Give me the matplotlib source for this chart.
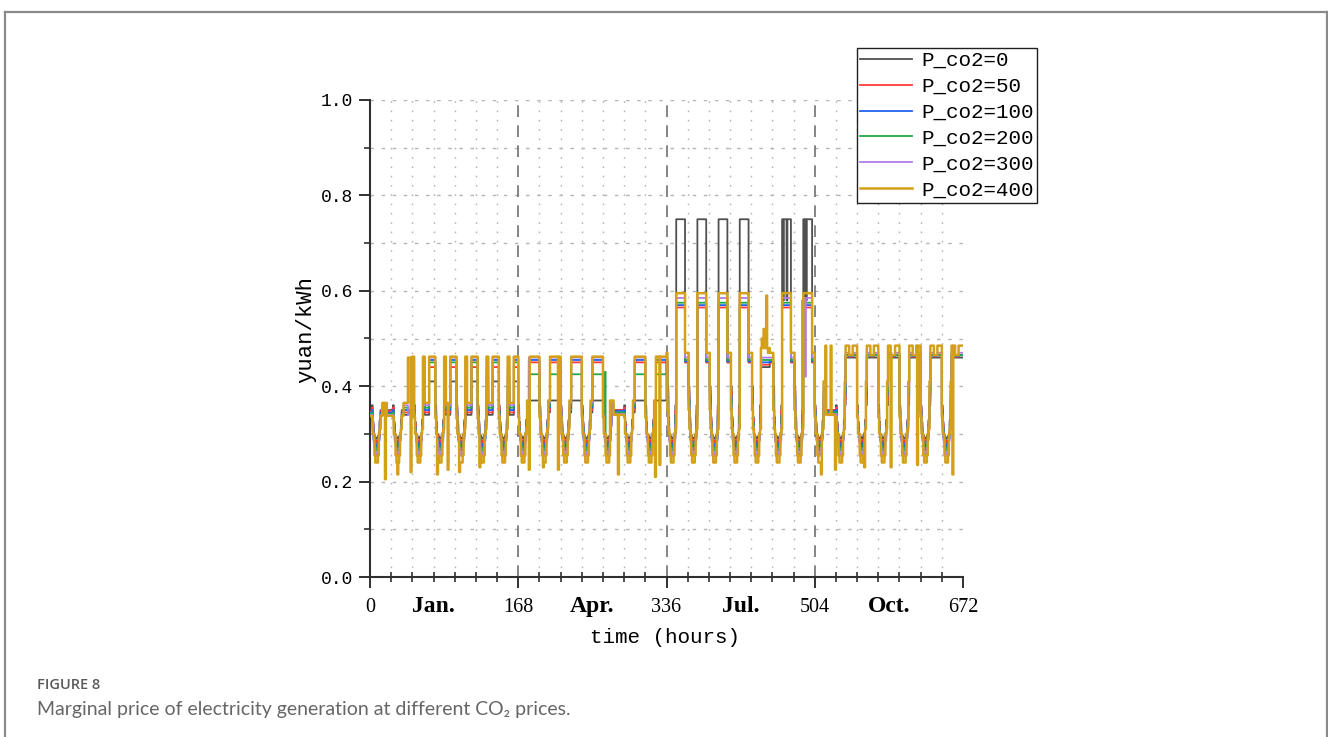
import numpy as np
import matplotlib
matplotlib.use("Agg")
import matplotlib.pyplot as plt
from matplotlib.ticker import MultipleLocator, FixedLocator
from matplotlib.lines import Line2D

# ---------------- data ----------------
series_labels = ["P_co2=0", "P_co2=50", "P_co2=100", "P_co2=200", "P_co2=300", "P_co2=400"]
series_colors = ["#505050", "#ff3b3b", "#1f63f0", "#22aa4a", "#b57be8", "#d4a01a"]

x_tick_values = [0, 168, 336, 504, 672]
month_labels = ["Jan.", "Apr.", "Jul.", "Oct."]
y_tick_values = [0.0, 0.2, 0.4, 0.6, 0.8, 1.0]

# day types for the 7 typical days of each season
jan_days = "LLHHHHH"
apr_days = "HHHHLHH"
jul_days = "HHHHMHH"
oct_days = "LHHHHHH"

# hourly templates (24 codes per day)
jan_templates = {"H": "PPEFabcdefgRKKMMMMMPPPPP", "L": "LLEFabcdefgRLLMMMMMLLLLL"}
apr_templates = {"H": "EFabcdefgRMMPPPPPPPPPPPP", "L": "EFabcdefgRMMLLLLLLLLLLLL"}
jul_templates = {"H": "SEFabcdefgRPPPPPPPPPPSSS", "M": "SEFabcdefgRMMMMMMMMMMSSS"}
oct_templates = {"H": "EFabcdefgRMPPPPQQQQPPPPP", "L": "EFabcdefgRMMLLLLLLLLLLLL"}

# night valley levels [P0, P50, P100, P200, P300, P400]
night_levels = {
    "a": [0.300, 0.296, 0.292, 0.288, 0.284, 0.300],
    "b": [0.296, 0.290, 0.284, 0.278, 0.270, 0.255],
    "c": [0.292, 0.285, 0.278, 0.270, 0.260, 0.240],
    "d": [0.290, 0.282, 0.274, 0.265, 0.254, 0.240],
    "e": [0.292, 0.285, 0.278, 0.270, 0.260, 0.240],
    "f": [0.296, 0.290, 0.284, 0.278, 0.270, 0.255],
    "g": [0.302, 0.298, 0.294, 0.290, 0.286, 0.300],
}
jan_levels = {
    "P": [0.410, 0.440, 0.455, 0.450, 0.460, 0.462],
    "K": [0.360, 0.380, 0.400, 0.420, 0.440, 0.462],
    "M": [0.340, 0.345, 0.350, 0.355, 0.360, 0.365],
    "L": [0.350, 0.348, 0.345, 0.342, 0.340, 0.338],
    "R": [0.330, 0.328, 0.325, 0.320, 0.315, 0.310],
    "E": [0.360, 0.355, 0.350, 0.345, 0.340, 0.335],
    "F": [0.325, 0.320, 0.315, 0.310, 0.305, 0.300],
}
apr_levels = {
    "P": [0.370, 0.450, 0.455, 0.425, 0.460, 0.462],
    "M": [0.345, 0.350, 0.355, 0.360, 0.365, 0.370],
    "L": [0.350, 0.350, 0.348, 0.345, 0.342, 0.340],
    "R": [0.330, 0.328, 0.325, 0.320, 0.315, 0.310],
    "E": [0.360, 0.355, 0.350, 0.345, 0.340, 0.335],
    "F": [0.325, 0.320, 0.315, 0.310, 0.305, 0.300],
}
jul_levels = {
    "P": [0.750, 0.565, 0.570, 0.575, 0.585, 0.595],
    "S": [0.450, 0.450, 0.452, 0.455, 0.460, 0.470],
    "M": [0.440, 0.445, 0.450, 0.455, 0.460, 0.480],
    "R": [0.360, 0.350, 0.340, 0.330, 0.320, 0.310],
    "E": [0.400, 0.390, 0.380, 0.370, 0.360, 0.350],
    "F": [0.335, 0.330, 0.325, 0.320, 0.315, 0.310],
}
oct_levels = {
    "P": [0.460, 0.465, 0.465, 0.465, 0.470, 0.485],
    "Q": [0.460, 0.462, 0.463, 0.465, 0.465, 0.465],
    "M": [0.360, 0.370, 0.380, 0.390, 0.400, 0.410],
    "L": [0.350, 0.350, 0.348, 0.345, 0.342, 0.340],
    "R": [0.330, 0.328, 0.325, 0.320, 0.315, 0.310],
    "E": [0.360, 0.355, 0.350, 0.345, 0.340, 0.335],
    "F": [0.325, 0.320, 0.315, 0.310, 0.305, 0.300],
}

# isolated spikes: (hour, series index, value)
spikes = [
    (17, 5, 0.205), (31, 5, 0.215), (43, 5, 0.46), (44, 5, 0.46), (45, 5, 0.46),
    (46, 5, 0.22), (76, 5, 0.215), (88, 5, 0.225), (101, 5, 0.22), (124, 5, 0.23),
    (180, 5, 0.225), (196, 5, 0.23), (213, 5, 0.225), (266, 3, 0.43), (272, 5, 0.37),
    (273, 5, 0.37), (281, 5, 0.215), (300, 1, 0.455), (323, 5, 0.21), (328, 5, 0.235),
    (444, 5, 0.50), (446, 5, 0.52), (449, 5, 0.59), (451, 5, 0.47),
    (468, 0, 0.58), (472, 0, 0.58),
    (490, 0, 0.58), (492, 0, 0.58), (494, 0, 0.58), (493, 4, 0.42),
    (511, 5, 0.215), (516, 5, 0.485), (522, 5, 0.485), (527, 5, 0.225),
    (560, 5, 0.23), (590, 5, 0.23), (620, 5, 0.235), (660, 5, 0.215),
]

season_days = [jan_days, apr_days, jul_days, oct_days]
season_templates = [jan_templates, apr_templates, jul_templates, oct_templates]
season_levels = [jan_levels, apr_levels, jul_levels, oct_levels]


def build_series():
    n = len(series_labels)
    rows = [[] for _ in range(n)]
    for days, tpls, lv_season in zip(season_days, season_templates, season_levels):
        lv = dict(night_levels)
        lv.update(lv_season)
        for t in days:
            for code in tpls[t]:
                for k in range(n):
                    rows[k].append(lv[code][k])
    arr = np.array(rows)
    for h, k, v in spikes:
        arr[k, h] = v
    return arr


values = build_series()
hours = np.arange(values.shape[1] + 1)

# ---------------- figure ----------------
W, H = 1328, 737
fig = plt.figure(figsize=(W / 100, H / 100), dpi=100)

# outer frame
frame_kw = dict(color="#8a8a8a", lw=1.6, transform=fig.transFigure, clip_on=False)
fig.add_artist(Line2D([4.5 / W, 4.5 / W], [0, 1 - 12 / H], **frame_kw))
fig.add_artist(Line2D([4.5 / W, 1326.5 / W], [1 - 12 / H, 1 - 12 / H], **frame_kw))
fig.add_artist(Line2D([1326.5 / W, 1326.5 / W], [0, 1 - 12 / H], **frame_kw))

ax = fig.add_axes([370 / W, 1 - 577 / H, 593 / W, 477 / H])

# grid
for xv in range(24, 672, 24):
    if xv in (168, 336, 504):
        continue
    ax.axvline(xv, color="#b4b4b4", lw=1.0, ls=(0, (1.2, 5.5)), zorder=0)
for yv in np.arange(0.1, 1.01, 0.1):
    ax.axhline(yv, color="#b4b4b4", lw=1.0, ls=(0, (2.5, 5.5)), zorder=0)
for xv in (168, 336, 504):
    ax.axvline(xv, color="#707070", lw=1.2, ls=(0, (7, 5)), zorder=0.5)

widths = [1.3, 1.3, 1.3, 1.3, 1.3, 1.8]
handles = []
for k in range(values.shape[0]):
    y = np.append(values[k], values[k][-1])
    (ln,) = ax.step(hours, y, where="post", color=series_colors[k], lw=widths[k],
                    label=series_labels[k], zorder=2 + k)
    handles.append(ln)

ax.set_xlim(0, 672)
ax.set_ylim(0, 1.0)
for side in ("top", "right"):
    ax.spines[side].set_visible(False)
for side in ("left", "bottom"):
    ax.spines[side].set_linewidth(1.5)
    ax.spines[side].set_color("#303030")

ax.xaxis.set_major_locator(FixedLocator(x_tick_values))
ax.xaxis.set_minor_locator(MultipleLocator(24))
ax.yaxis.set_major_locator(FixedLocator(y_tick_values))
ax.yaxis.set_minor_locator(MultipleLocator(0.1))
ax.set_yticklabels([f"{v:.1f}" for v in y_tick_values], family="Liberation Mono", fontsize=13)
ax.set_xticklabels([str(v) for v in x_tick_values], family="Liberation Serif", fontsize=14.5)
ax.tick_params(axis="x", which="major", direction="out", length=8, width=1.4, color="#303030", pad=7)
ax.tick_params(axis="x", which="minor", direction="inout", length=7, width=1.2, color="#303030")
ax.tick_params(axis="y", which="major", direction="out", length=8, width=1.4, color="#303030", pad=4)
ax.tick_params(axis="y", which="minor", direction="out", length=4, width=1.2, color="#303030")

for lbl, s in zip(month_labels, range(4)):
    ax.text(168 * s + 84 - (12 if s == 0 else 0), -0.040, lbl, transform=ax.transData,
            ha="center", va="top", family="Liberation Serif", fontweight="bold", fontsize=17)

ax.set_xlabel("time (hours)", family="Liberation Mono", fontsize=15)
ax.xaxis.set_label_coords(0.497, -0.106)
ax.set_ylabel("yuan/kWh", family="Liberation Mono", fontsize=16)
ax.yaxis.set_label_coords(-0.090, 0.518)

leg = ax.legend(handles=handles, loc="upper left", bbox_to_anchor=(857 / W, 1 - 48 / H),
                bbox_transform=fig.transFigure, borderaxespad=0, frameon=True, fancybox=False,
                edgecolor="#202020", framealpha=1, prop={"family": "Liberation Mono", "size": 15},
                handlelength=2.5, handletextpad=0.45, labelspacing=0.33, borderpad=0.15)
leg.get_frame().set_linewidth(1.0)
leg.set_zorder(20)

fig.text(37 / W, 1 - 685 / H, "FIGURE 8", family=["Open Sans", "DejaVu Sans"], fontsize=10.5,
         fontweight="semibold", color="#5a5a5a", ha="left", va="center")
fig.text(37 / W, 1 - 710 / H, "Marginal price of electricity generation at different CO₂ prices.",
         family=["Lato", "DejaVu Sans"], fontsize=14, color="#666666", ha="left", va="center")

fig.savefig("out.png", dpi=100)
